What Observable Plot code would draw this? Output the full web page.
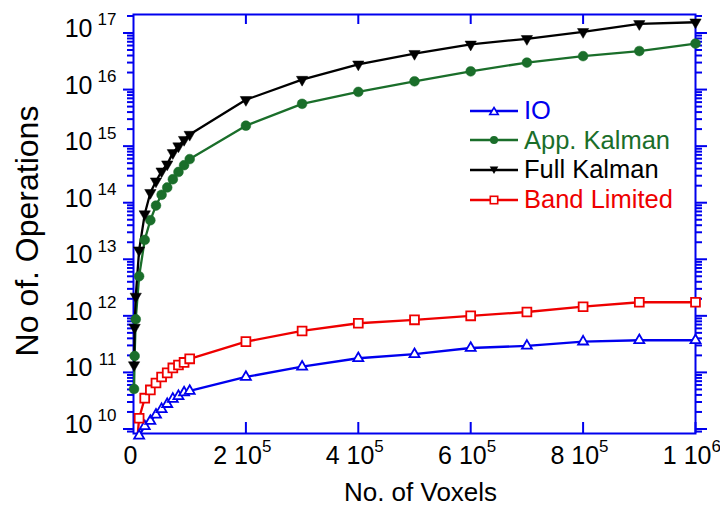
<!DOCTYPE html>
<html><head><meta charset="utf-8">
<script src="https://cdn.jsdelivr.net/npm/d3@7"></script>
<script src="https://cdn.jsdelivr.net/npm/@observablehq/plot@0.6"></script>
<style>
body{margin:0;background:#fff;font-family:"Liberation Sans",Arial,sans-serif;}
#wrap{position:relative;width:720px;height:506px;overflow:hidden;}
#legend{position:absolute;left:470px;top:96px;}
.row{display:flex;align-items:center;height:29.6px;font-size:25.5px;white-space:nowrap;}
.row span{margin-left:6px;}
</style></head><body>
<div id="wrap"><div id="chart"></div><div id="legend"></div></div>
<script>
// ---- data ----
const voxels = [1000, 2000, 4000, 10000, 20000, 30000, 40000, 50000, 60000, 70000, 80000, 90000, 100000,
  200000, 300000, 400000, 500000, 600000, 700000, 800000, 900000, 1000000];
const ioOps = [null, null, null, 7.6e9, 1.12e10, 1.38e10, 1.78e10, 2.24e10, 2.75e10, 3.4e10, 3.8e10, 4.4e10, 4.7e10,
  8.3e10, 1.26e11, 1.78e11, 2.1e11, 2.7e11, 2.95e11, 3.5e11, 3.7e11, 3.7e11];
const appKalmanOps = [5.1e10, 1.95e11, 8.7e11, 5.0e12, 2.2e13, 4.9e13, 8.9e13, 1.38e14, 1.86e14, 2.6e14, 3.5e14, 4.6e14, 5.9e14,
  2.3e15, 5.6e15, 9.1e15, 1.4e16, 2.1e16, 3.0e16, 3.9e16, 4.8e16, 6.5e16];
const fullKalmanOps = [1.35e11, 6.2e11, 2.2e12, 1.45e13, 6.3e13, 1.5e14, 2.4e14, 3.6e14, 4.8e14, 7.6e14, 1.0e15, 1.3e15, 1.6e15,
  6.6e15, 1.5e16, 2.8e16, 4.3e16, 6.3e16, 7.9e16, 1.05e17, 1.45e17, 1.55e17];
const bandLimitedOps = [null, null, 3.2e9, 1.55e10, 3.5e10, 4.9e10, 6.5e10, 8.3e10, 9.8e10, 1.2e11, 1.35e11, 1.5e11, 1.74e11,
  3.5e11, 5.4e11, 7.4e11, 8.5e11, 1.0e12, 1.17e12, 1.45e12, 1.74e12, 1.74e12];

const seriesNames = ["IO", "App. Kalman", "Full Kalman", "Band Limited"];
const seriesColors = ["#0000ee", "#1a6e2a", "#000000", "#ee0000"];

const xTickValues = [0, 200000, 400000, 600000, 800000, 1000000];
const xTickMain = ["0", "2 10", "4 10", "6 10", "8 10", "1 10"];
const xTickExp = ["", "5", "5", "5", "5", "6"];
const yTickExp = [10, 11, 12, 13, 14, 15, 16, 17];
const yTickBase = "10";

const xTitle = "No. of Voxels";
const yTitle = "No of. Operations";

// ---- layout ----
const W = 720, H = 506, mL = 133, mR = 25, mT = 14, mB = 73;
const frameW = W - mL - mR, frameH = H - mT - mB;
const AXIS = "#0000ee";
const yDomain = [Math.pow(10, 9.92), Math.pow(10, 17.327)];

const yMajor = yTickExp.map(e => Math.pow(10, e));
const yMinor = [];
for (let e = 9; e <= 17; e++) for (let m = 2; m <= 9; m++) {
  const v = m * Math.pow(10, e);
  if (v >= yDomain[0] && v <= yDomain[1]) yMinor.push(v);
}

const mk = arr => voxels.map((v, i) => ({x: v, y: arr[i]})).filter(d => d.y != null);
const io = mk(ioOps), app = mk(appKalmanOps), full = mk(fullKalmanOps), band = mk(bandLimitedOps);
const inDomain = d => d.y >= yDomain[0] * 0.9;

const xi = xTickValues.map((d, i) => i);
const T = {lineAnchor: "middle"};

const plot = Plot.plot({
  width: W, height: H,
  marginLeft: mL, marginRight: mR, marginTop: mT, marginBottom: mB,
  style: {fontFamily: "'Liberation Sans', Arial, sans-serif", background: "white", overflow: "visible"},
  x: {domain: [0, 1000000], axis: null},
  y: {type: "log", domain: yDomain, axis: null},
  marks: [
    // y ticks left (outward) and right (outward)
    Plot.tickY(yMajor, {y: d => d, insetLeft: -10, insetRight: frameW, stroke: AXIS, strokeWidth: 2}),
    Plot.tickY(yMinor, {y: d => d, insetLeft: -6, insetRight: frameW, stroke: AXIS, strokeWidth: 2}),
    Plot.tickY(yMajor, {y: d => d, insetLeft: frameW, insetRight: -12, stroke: AXIS, strokeWidth: 2}),
    Plot.tickY(yMinor, {y: d => d, insetLeft: frameW, insetRight: -7, stroke: AXIS, strokeWidth: 2}),
    // x ticks bottom (inward, up) and top (inward, down)
    Plot.tickX(xTickValues.slice(1), {x: d => d, insetTop: frameH - 11, stroke: AXIS, strokeWidth: 2}),
    Plot.tickX(xTickValues.slice(1, -1), {x: d => d, insetBottom: frameH - 10, stroke: AXIS, strokeWidth: 2}),
    Plot.frame({stroke: AXIS, strokeWidth: 2}),
    // y tick labels
    Plot.text(yMajor, {...T, y: d => d, frameAnchor: "left", text: () => yTickBase, textAnchor: "end", dx: -41, dy: -4, fontSize: 25}),
    Plot.text(yTickExp, {...T, y: e => Math.pow(10, e), frameAnchor: "left", text: e => String(e), textAnchor: "end", dx: -17, dy: -13, fontSize: 17}),
    // x tick labels
    Plot.text(xi.filter(i => xTickExp[i] === ""), {...T, x: i => xTickValues[i], frameAnchor: "bottom", text: i => xTickMain[i], textAnchor: "middle", dx: -3, dy: 22, fontSize: 25}),
    Plot.text(xi.filter(i => xTickExp[i] !== ""), {...T, x: i => xTickValues[i], frameAnchor: "bottom", text: i => xTickMain[i], textAnchor: "end", dx: 16, dy: 22, fontSize: 25}),
    Plot.text(xi.filter(i => xTickExp[i] !== ""), {...T, x: i => xTickValues[i], frameAnchor: "bottom", text: i => xTickExp[i], textAnchor: "start", dx: 16, dy: 13.5, fontSize: 17}),
    // axis titles
    Plot.text([xTitle], {...T, frameAnchor: "bottom", textAnchor: "middle", dx: 6, dy: 59, fontSize: 26}),
    Plot.text([yTitle], {...T, frameAnchor: "left", textAnchor: "middle", rotate: -90, dx: -106, dy: 7, fontSize: 32}),
    // series lines
    Plot.line(io, {x: "x", y: "y", stroke: seriesColors[0], strokeWidth: 2.3}),
    Plot.line(app, {x: "x", y: "y", stroke: seriesColors[1], strokeWidth: 2.3}),
    Plot.line(full, {x: "x", y: "y", stroke: seriesColors[2], strokeWidth: 2.3}),
    Plot.line(band, {x: "x", y: "y", stroke: seriesColors[3], strokeWidth: 2.3, clip: true}),
    // series markers
    Plot.dot(io, {x: "x", y: "y", symbol: "triangle", r: 3.7, fill: "white", stroke: seriesColors[0], strokeWidth: 1.8}),
    Plot.dot(app, {x: "x", y: "y", symbol: "circle", r: 4.9, fill: seriesColors[1], stroke: seriesColors[1], strokeWidth: 0.5}),
    Plot.dot(full, {x: "x", y: "y", symbol: "triangle", rotate: 180, r: 4.2, fill: seriesColors[2], stroke: seriesColors[2], strokeWidth: 0.5}),
    Plot.dot(band.filter(inDomain), {x: "x", y: "y", symbol: "square", r: 5, fill: "white", stroke: seriesColors[3], strokeWidth: 1.8})
  ]
});
document.getElementById("chart").appendChild(plot);

// legend overlay
const legend = document.getElementById("legend");
const markerSvg = [
  c => `<path d="M24,6.5 L28.2,13.5 L19.8,13.5 Z" fill="white" stroke="${c}" stroke-width="1.6"/>`,
  c => `<circle cx="24" cy="10" r="4" fill="${c}"/>`,
  c => `<path d="M24,14 L28.3,6.5 L19.7,6.5 Z" fill="${c}"/>`,
  c => `<rect x="20.3" y="6.3" width="7.4" height="7.4" fill="white" stroke="${c}" stroke-width="1.6"/>`
];
seriesNames.forEach((name, i) => {
  const c = seriesColors[i];
  const row = document.createElement("div");
  row.className = "row";
  row.innerHTML = `<svg width="48" height="20"><line x1="0" y1="10" x2="48" y2="10" stroke="${c}" stroke-width="2.4"/>${markerSvg[i](c)}</svg><span style="color:${c}">${name}</span>`;
  legend.appendChild(row);
});
</script>
</body></html>
